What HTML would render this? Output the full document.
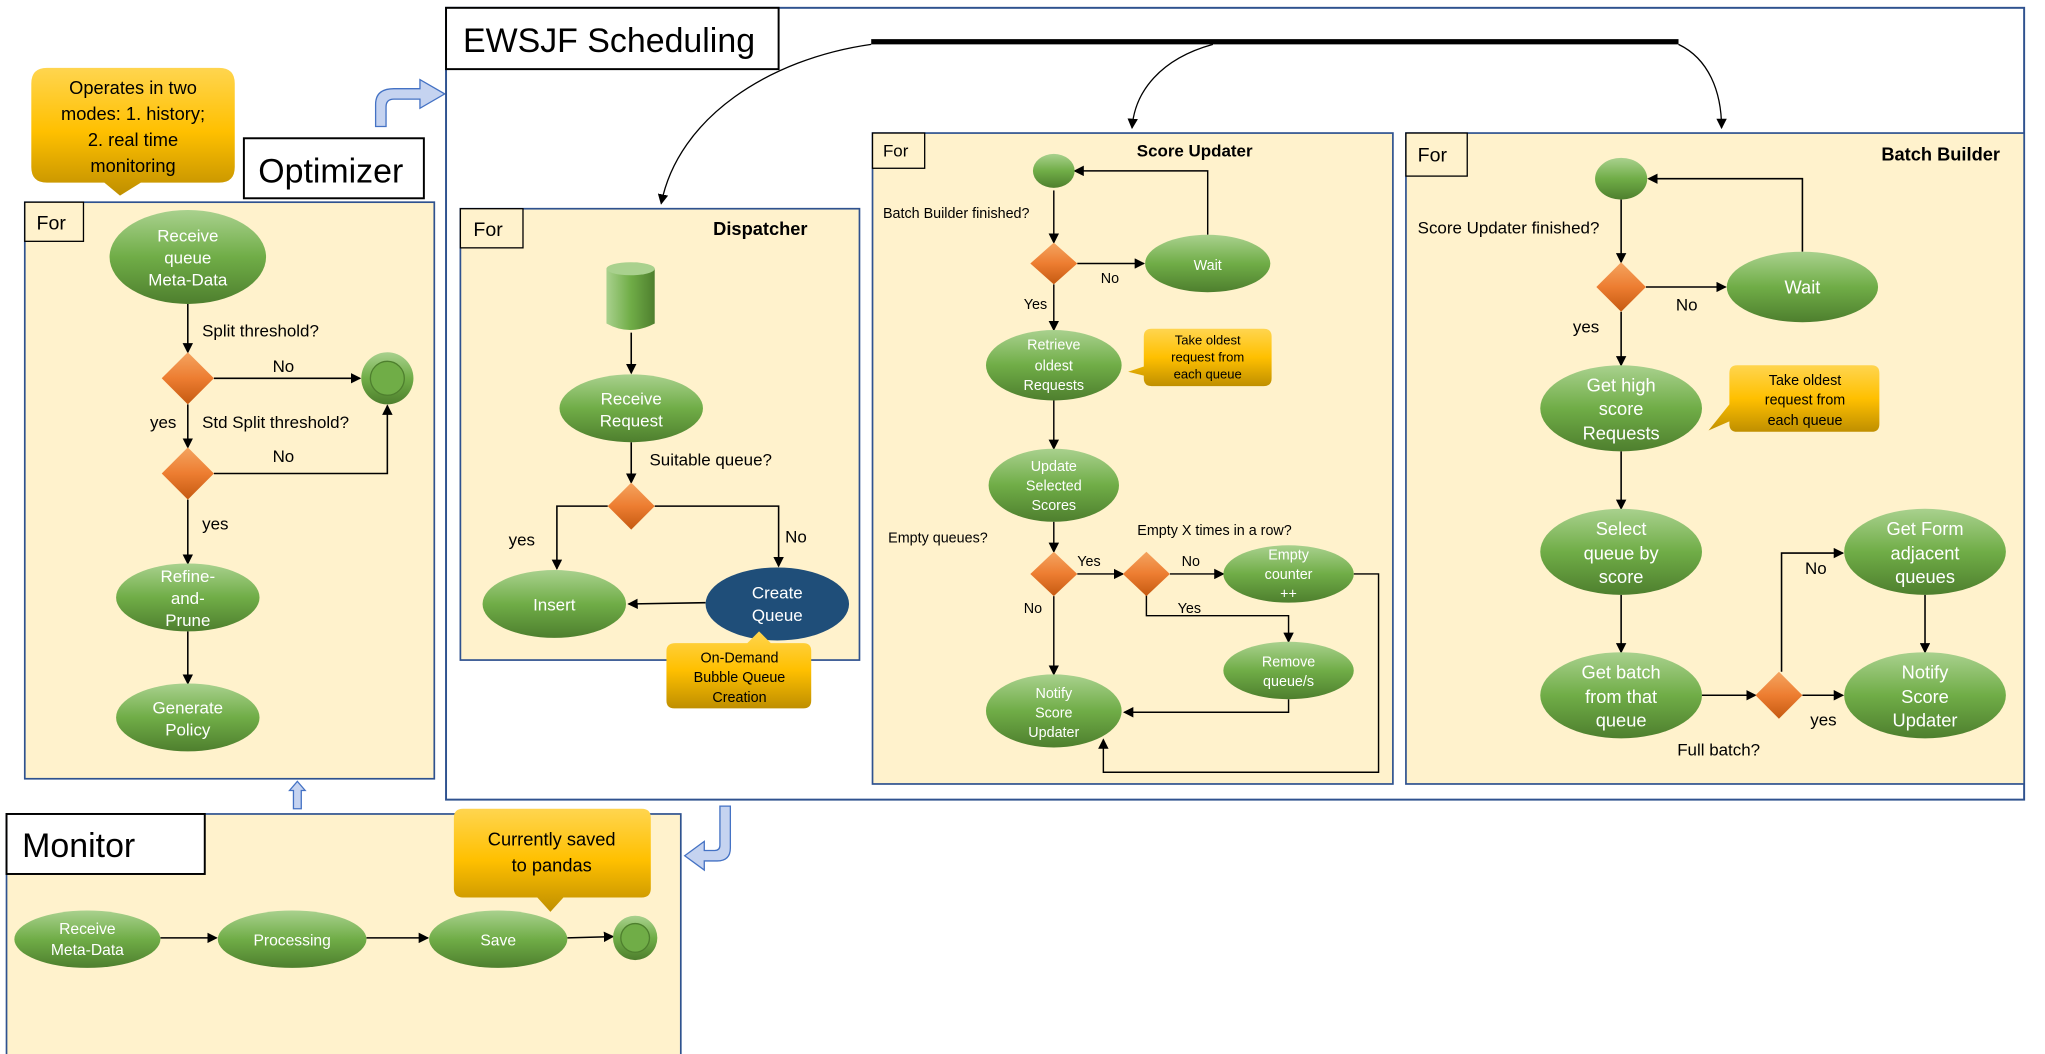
<!DOCTYPE html>
<html><head><meta charset="utf-8"><style>
html,body{margin:0;padding:0;background:#fff;}
svg{display:block;}
text{font-family:"Liberation Sans",sans-serif;}
</style></head><body>
<svg width="2045" height="1054" viewBox="0 0 1568 808" preserveAspectRatio="none" xmlns="http://www.w3.org/2000/svg">
<defs>
<linearGradient id="g" x1="0" y1="0" x2="0" y2="1"><stop offset="0" stop-color="#a9d18e"/><stop offset="0.5" stop-color="#70ad47"/><stop offset="1" stop-color="#4e7f2e"/></linearGradient>
<linearGradient id="y" x1="0" y1="0" x2="0" y2="1"><stop offset="0" stop-color="#ffd54f"/><stop offset="0.5" stop-color="#ffc000"/><stop offset="1" stop-color="#bf8f00"/></linearGradient>
<linearGradient id="o" x1="0" y1="0" x2="0" y2="1"><stop offset="0" stop-color="#f4a460"/><stop offset="0.5" stop-color="#ed7d31"/><stop offset="1" stop-color="#c55a11"/></linearGradient>
<linearGradient id="cy" x1="0" y1="0" x2="1" y2="0"><stop offset="0" stop-color="#a9d18e"/><stop offset="0.5" stop-color="#70ad47"/><stop offset="1" stop-color="#4e7f2e"/></linearGradient>
<marker id="a" markerWidth="8" markerHeight="8" refX="7" refY="4" orient="auto" markerUnits="userSpaceOnUse"><path d="M0,0 L8,4 L0,8 z" fill="#000"/></marker>
</defs>
<!-- Optimizer -->
<rect x="19" y="155" width="314" height="442" fill="#fff2cc" stroke="#2f528f" stroke-width="1.3"/>
<rect x="19" y="155" width="45" height="30" fill="#fff2cc" stroke="#000"/>
<text x="28" y="176" font-size="15">For</text>
<rect x="187" y="106" width="138" height="46" fill="#fff" stroke="#000" stroke-width="1.5"/>
<text x="198" y="140" font-size="26">Optimizer</text>
<path d="M36,52 H168 Q180,52 180,64 V128 Q180,140 168,140 H108 L92,150 L80,140 H36 Q24,140 24,128 V64 Q24,52 36,52 Z" fill="url(#y)"/>
<g font-size="14" text-anchor="middle" fill="#000"><text x="102" y="72">Operates in two</text><text x="102" y="92">modes: 1. history;</text><text x="102" y="112">2. real time</text><text x="102" y="132">monitoring</text></g>
<path d="M288,97 V80 Q288,68 302,68 H322 V61 L341,72 L322,83 V76 H302 Q296,76 296,82 V97 Z" fill="#c5d3f0" stroke="#4472c4"/>
<g stroke="#000" stroke-width="1.2" fill="none" marker-end="url(#a)">
<line x1="144" y1="233" x2="144" y2="270"/>
<line x1="164" y1="290" x2="276" y2="290"/>
<line x1="144" y1="310" x2="144" y2="343"/>
<polyline points="164,363 297,363 297,311"/>
<line x1="144" y1="383" x2="144" y2="432"/>
<line x1="144" y1="484" x2="144" y2="524"/>
</g>
<ellipse cx="144" cy="197" rx="60" ry="36" fill="url(#g)"/>
<g font-size="13" fill="#fff" text-anchor="middle"><text x="144" y="185">Receive</text><text x="144" y="202">queue</text><text x="144" y="219">Meta-Data</text></g>
<path d="M144,270 L164,290 L144,310 L124,290 Z" fill="url(#o)"/>
<path d="M144,343 L164,363 L144,383 L124,363 Z" fill="url(#o)"/>
<circle cx="297" cy="290" r="20" fill="url(#g)"/><circle cx="297" cy="290" r="13" fill="#70ad47" stroke="#4e7f2e"/>
<ellipse cx="144" cy="458" rx="55" ry="26" fill="url(#g)"/>
<g font-size="13" fill="#fff" text-anchor="middle"><text x="144" y="446">Refine-</text><text x="144" y="463">and-</text><text x="144" y="480">Prune</text></g>
<ellipse cx="144" cy="550" rx="55" ry="26" fill="url(#g)"/>
<g font-size="13" fill="#fff" text-anchor="middle"><text x="144" y="547">Generate</text><text x="144" y="564">Policy</text></g>
<g font-size="13"><text x="155" y="258">Split threshold?</text><text x="209" y="285">No</text><text x="115" y="328">yes</text><text x="155" y="328">Std Split threshold?</text><text x="209" y="354">No</text><text x="155" y="406">yes</text></g>
<path d="M228,599 L234,606 H231 V620 H225 V606 H222 Z" fill="#c5d3f0" stroke="#4472c4"/>

<!-- EWSJF -->
<rect x="342" y="6" width="1210" height="607" fill="none" stroke="#2f528f" stroke-width="1.5"/>
<rect x="342" y="6" width="255" height="47" fill="#fff" stroke="#000" stroke-width="1.5"/>
<text x="355" y="40" font-size="26">EWSJF Scheduling</text>
<line x1="668" y1="32" x2="1287" y2="32" stroke="#000" stroke-width="4"/>
<g stroke="#000" stroke-width="1" fill="none" marker-end="url(#a)">
<path d="M668,34 C590,45 520,90 507,156"/>
<path d="M930,34 C890,45 870,70 868,98"/>
<path d="M1287,34 C1310,45 1320,70 1320,98"/>
</g>

<!-- Dispatcher -->
<rect x="353" y="160" width="306" height="346" fill="#fff2cc" stroke="#2f528f" stroke-width="1.3"/>
<rect x="353" y="160" width="48" height="30" fill="#fff2cc" stroke="#000"/>
<text x="363" y="181" font-size="15">For</text>
<text x="583" y="180" font-size="14" font-weight="bold" text-anchor="middle">Dispatcher</text>
<path d="M465,206 V248 Q483,258 502,248 V206 Z" fill="url(#cy)"/><ellipse cx="483.5" cy="206" rx="18.5" ry="5" fill="#a9d18e"/>
<g stroke="#000" stroke-width="1.2" fill="none" marker-end="url(#a)">
<line x1="484" y1="255" x2="484" y2="286"/>
<line x1="484" y1="339" x2="484" y2="370"/>
<polyline points="466,388 427,388 427,436"/>
<polyline points="502,388 597,388 597,434"/>
<line x1="541" y1="462" x2="482" y2="463"/>
</g>
<ellipse cx="484" cy="313" rx="55" ry="26" fill="url(#g)"/>
<g font-size="13" fill="#fff" text-anchor="middle"><text x="484" y="310">Receive</text><text x="484" y="327">Request</text></g>
<path d="M484,370 L502,388 L484,406 L466,388 Z" fill="url(#o)"/>
<ellipse cx="425" cy="463" rx="55" ry="26" fill="url(#g)"/>
<text x="425" y="468" font-size="13" fill="#fff" text-anchor="middle">Insert</text>
<ellipse cx="596" cy="463" rx="55" ry="28" fill="#1f4e79"/>
<g font-size="13" fill="#fff" text-anchor="middle"><text x="596" y="459">Create</text><text x="596" y="476">Queue</text></g>
<g font-size="13"><text x="498" y="357">Suitable queue?</text><text x="390" y="418">yes</text><text x="602" y="416">No</text></g>
<path d="M518,493 H573 L582,484 L591,493 H616 Q622,493 622,499 V537 Q622,543 616,543 H517 Q511,543 511,537 V499 Q511,493 518,493 Z" fill="url(#y)"/>
<g font-size="11" text-anchor="middle"><text x="567" y="508">On-Demand</text><text x="567" y="523">Bubble Queue</text><text x="567" y="538">Creation</text></g>

<!-- Score Updater -->
<rect x="669" y="102" width="399" height="499" fill="#fff2cc" stroke="#2f528f" stroke-width="1.3"/>
<rect x="669" y="102" width="40" height="27" fill="#fff2cc" stroke="#000"/>
<text x="677" y="120" font-size="13">For</text>
<text x="916" y="120" font-size="13" font-weight="bold" text-anchor="middle">Score Updater</text>
<g stroke="#000" stroke-width="1.1" fill="none" marker-end="url(#a)">
<line x1="808" y1="146" x2="808" y2="186"/>
<line x1="826" y1="202" x2="877" y2="202"/>
<polyline points="926,180 926,131 824,131"/>
<line x1="808" y1="218" x2="808" y2="253"/>
<line x1="808" y1="307" x2="808" y2="344"/>
<line x1="808" y1="400" x2="808" y2="423"/>
<line x1="826" y1="440" x2="861" y2="440"/>
<line x1="897" y1="440" x2="938" y2="440"/>
<polyline points="879,456 879,472 988,472 988,492"/>
<line x1="808" y1="457" x2="808" y2="517"/>
<polyline points="988,536 988,546 862,546"/>
<polyline points="1038,440 1057,440 1057,592 846,592 846,567"/>
</g>
<ellipse cx="808" cy="131" rx="16" ry="13" fill="url(#g)"/>
<path d="M808,186 L826,202 L808,218 L790,202 Z" fill="url(#o)"/>
<ellipse cx="926" cy="202" rx="48" ry="22" fill="url(#g)"/>
<text x="926" y="207" font-size="11" fill="#fff" text-anchor="middle">Wait</text>
<ellipse cx="808" cy="280" rx="52" ry="27" fill="url(#g)"/>
<g font-size="11" fill="#fff" text-anchor="middle"><text x="808" y="268">Retrieve</text><text x="808" y="284">oldest</text><text x="808" y="299">Requests</text></g>
<path d="M883,252 H969 Q975,252 975,258 V290 Q975,296 969,296 H883 Q877,296 877,290 V288 L865,285 L877,281 V258 Q877,252 883,252 Z" fill="url(#y)"/>
<g font-size="10" text-anchor="middle"><text x="926" y="264">Take oldest</text><text x="926" y="277">request from</text><text x="926" y="290">each queue</text></g>
<ellipse cx="808" cy="372" rx="50" ry="28" fill="url(#g)"/>
<g font-size="11" fill="#fff" text-anchor="middle"><text x="808" y="361">Update</text><text x="808" y="376">Selected</text><text x="808" y="391">Scores</text></g>
<path d="M808,423 L826,440 L808,457 L790,440 Z" fill="url(#o)"/>
<path d="M879,423 L897,440 L879,457 L861,440 Z" fill="url(#o)"/>
<ellipse cx="988" cy="440" rx="50" ry="22" fill="url(#g)"/>
<g font-size="11" fill="#fff" text-anchor="middle"><text x="988" y="429">Empty</text><text x="988" y="444">counter</text><text x="988" y="459">++</text></g>
<ellipse cx="988" cy="514" rx="50" ry="22" fill="url(#g)"/>
<g font-size="11" fill="#fff" text-anchor="middle"><text x="988" y="511">Remove</text><text x="988" y="526">queue/s</text></g>
<ellipse cx="808" cy="545" rx="52" ry="28" fill="url(#g)"/>
<g font-size="11" fill="#fff" text-anchor="middle"><text x="808" y="535">Notify</text><text x="808" y="550">Score</text><text x="808" y="565">Updater</text></g>
<g font-size="11"><text x="677" y="167">Batch Builder finished?</text><text x="844" y="217">No</text><text x="785" y="237">Yes</text><text x="681" y="416">Empty queues?</text><text x="826" y="434">Yes</text><text x="906" y="434">No</text><text x="872" y="410">Empty X times in a row?</text><text x="903" y="470">Yes</text><text x="785" y="470">No</text></g>

<!-- Batch Builder -->
<rect x="1078" y="102" width="474" height="499" fill="#fff2cc" stroke="#2f528f" stroke-width="1.3"/>
<rect x="1078" y="102" width="47" height="33" fill="#fff2cc" stroke="#000"/>
<text x="1087" y="124" font-size="15">For</text>
<text x="1488" y="123" font-size="14" font-weight="bold" text-anchor="middle">Batch Builder</text>
<g stroke="#000" stroke-width="1.2" fill="none" marker-end="url(#a)">
<line x1="1243" y1="153" x2="1243" y2="201"/>
<line x1="1262" y1="220" x2="1323" y2="220"/>
<polyline points="1382,193 1382,137 1264,137"/>
<line x1="1243" y1="239" x2="1243" y2="280"/>
<line x1="1243" y1="346" x2="1243" y2="390"/>
<line x1="1243" y1="456" x2="1243" y2="500"/>
<line x1="1305" y1="533" x2="1346" y2="533"/>
<line x1="1382" y1="533" x2="1413" y2="533"/>
<polyline points="1366,515 1366,424 1413,424"/>
<line x1="1476" y1="456" x2="1476" y2="500"/>
</g>
<ellipse cx="1243" cy="137" rx="20" ry="16" fill="url(#g)"/>
<path d="M1243,201 L1262,220 L1243,239 L1224,220 Z" fill="url(#o)"/>
<ellipse cx="1382" cy="220" rx="58" ry="27" fill="url(#g)"/>
<text x="1382" y="225" font-size="14" fill="#fff" text-anchor="middle">Wait</text>
<ellipse cx="1243" cy="313" rx="62" ry="33" fill="url(#g)"/>
<g font-size="14" fill="#fff" text-anchor="middle"><text x="1243" y="300">Get high</text><text x="1243" y="318">score</text><text x="1243" y="337">Requests</text></g>
<path d="M1332,280 H1435 Q1441,280 1441,286 V325 Q1441,331 1435,331 H1332 Q1326,331 1326,325 V323 L1310,330 L1326,310 V286 Q1326,280 1332,280 Z" fill="url(#y)"/>
<g font-size="11" text-anchor="middle"><text x="1384" y="295">Take oldest</text><text x="1384" y="310">request from</text><text x="1384" y="326">each queue</text></g>
<ellipse cx="1243" cy="423" rx="62" ry="33" fill="url(#g)"/>
<g font-size="14" fill="#fff" text-anchor="middle"><text x="1243" y="410">Select</text><text x="1243" y="429">queue by</text><text x="1243" y="447">score</text></g>
<ellipse cx="1243" cy="533" rx="62" ry="33" fill="url(#g)"/>
<g font-size="14" fill="#fff" text-anchor="middle"><text x="1243" y="520">Get batch</text><text x="1243" y="539">from that</text><text x="1243" y="557">queue</text></g>
<path d="M1364,515 L1382,533 L1364,551 L1346,533 Z" fill="url(#o)"/>
<ellipse cx="1476" cy="533" rx="62" ry="33" fill="url(#g)"/>
<g font-size="14" fill="#fff" text-anchor="middle"><text x="1476" y="520">Notify</text><text x="1476" y="539">Score</text><text x="1476" y="557">Updater</text></g>
<ellipse cx="1476" cy="423" rx="62" ry="33" fill="url(#g)"/>
<g font-size="14" fill="#fff" text-anchor="middle"><text x="1476" y="410">Get Form</text><text x="1476" y="429">adjacent</text><text x="1476" y="447">queues</text></g>
<g font-size="13"><text x="1087" y="179">Score Updater finished?</text><text x="1285" y="238">No</text><text x="1206" y="255">yes</text><text x="1286" y="579">Full batch?</text><text x="1388" y="556">yes</text><text x="1384" y="440">No</text></g>

<!-- Monitor -->
<rect x="5" y="624" width="517" height="190" fill="#fff2cc" stroke="#2f528f" stroke-width="1.3"/>
<rect x="5" y="624" width="152" height="46" fill="#fff" stroke="#000" stroke-width="1.5"/>
<text x="17" y="657" font-size="26">Monitor</text>
<path d="M355,620 H492 Q499,620 499,627 V681 Q499,688 492,688 H432 L422,699 L412,688 H355 Q348,688 348,681 V627 Q348,620 355,620 Z" fill="url(#y)"/>
<g font-size="14" text-anchor="middle"><text x="423" y="648">Currently saved</text><text x="423" y="668">to pandas</text></g>
<path d="M560,618 V650 Q560,660 550,660 H540 V667 L525,656 L540,645 V652 H548 Q552,652 552,648 V618 Z" fill="#c5d3f0" stroke="#4472c4"/>
<g stroke="#000" stroke-width="1.1" fill="none" marker-end="url(#a)">
<line x1="123" y1="719" x2="166" y2="719"/>
<line x1="281" y1="719" x2="328" y2="719"/>
<line x1="435" y1="719" x2="470" y2="718"/>
</g>
<ellipse cx="67" cy="720" rx="56" ry="22" fill="url(#g)"/>
<g font-size="12" fill="#fff" text-anchor="middle"><text x="67" y="716">Receive</text><text x="67" y="732">Meta-Data</text></g>
<ellipse cx="224" cy="720" rx="57" ry="22" fill="url(#g)"/>
<text x="224" y="725" font-size="12" fill="#fff" text-anchor="middle">Processing</text>
<ellipse cx="382" cy="720" rx="53" ry="22" fill="url(#g)"/>
<text x="382" y="725" font-size="12" fill="#fff" text-anchor="middle">Save</text>
<circle cx="487" cy="719" r="17" fill="url(#g)"/><circle cx="487" cy="719" r="11" fill="#70ad47" stroke="#4e7f2e"/>
</svg>
</body></html>
